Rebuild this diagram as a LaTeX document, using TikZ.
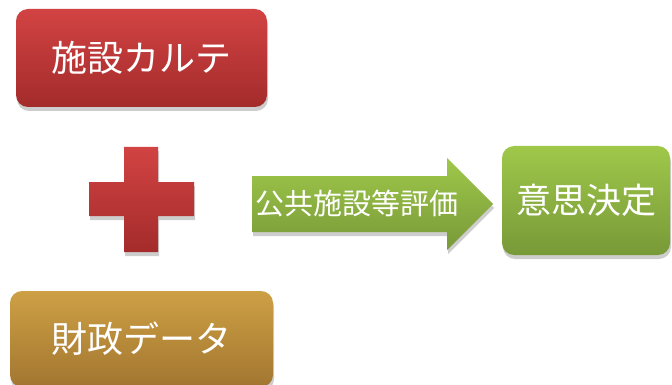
\documentclass[tikz,border=0pt]{standalone}
\usepackage{fontspec}
\newfontfamily\jp{Noto Sans CJK JP}
\usetikzlibrary{shadows}
\definecolor{redtop}{HTML}{D24343}
\definecolor{redbot}{HTML}{A42B2B}
\definecolor{goldtop}{HTML}{CEA045}
\definecolor{goldbot}{HTML}{A27630}
\definecolor{greentop}{HTML}{9FC84A}
\definecolor{greenbot}{HTML}{789938}
\begin{document}
\begin{tikzpicture}[x=1pt,y=-1pt,
  softshadow/.style={drop shadow={shadow xshift=1pt, shadow yshift=-4pt, opacity=0.28, fill=black!70}},
  box/.style={rounded corners=12pt, text=white, inner sep=0pt, softshadow},
  bigtext/.style={font=\jp\fontsize{36}{40}\selectfont},
  redfill/.style={top color=redtop, bottom color=redbot},
  goldfill/.style={top color=goldtop, bottom color=goldbot},
  greenfill/.style={top color=greentop, bottom color=greenbot},
]
\useasboundingbox (0,0) rectangle (672,385);
% top box
\node[box, redfill, bigtext, minimum width=251pt, minimum height=98pt] (karte) at (141.5,58) {施設カルテ};
% plus sign
\path[redfill, softshadow] (124,147) -- (158,147) -- (158,182) -- (194,182) -- (194,216) -- (158,216) -- (158,252) -- (124,252) -- (124,216) -- (89,216) -- (89,182) -- (124,182) -- cycle;
% arrow
\path[greenfill, softshadow] (252,176) -- (447,176) -- (447,158) -- (493,204) -- (447,250) -- (447,232) -- (252,232) -- cycle;
\node[text=white, inner sep=0pt, font=\jp\fontsize{29}{32}\selectfont] (hyouka) at (357,203) {公共施設等評価};
% decision box
\node[box, greenfill, font=\jp\fontsize{35}{40}\selectfont, minimum width=168pt, minimum height=109pt] (kettei) at (586,200.5) {意思決定};
% bottom box
\node[box, goldfill, bigtext, minimum width=263pt, minimum height=96pt] (zaisei) at (141.5,339) {財政データ};
\end{tikzpicture}
\end{document}
